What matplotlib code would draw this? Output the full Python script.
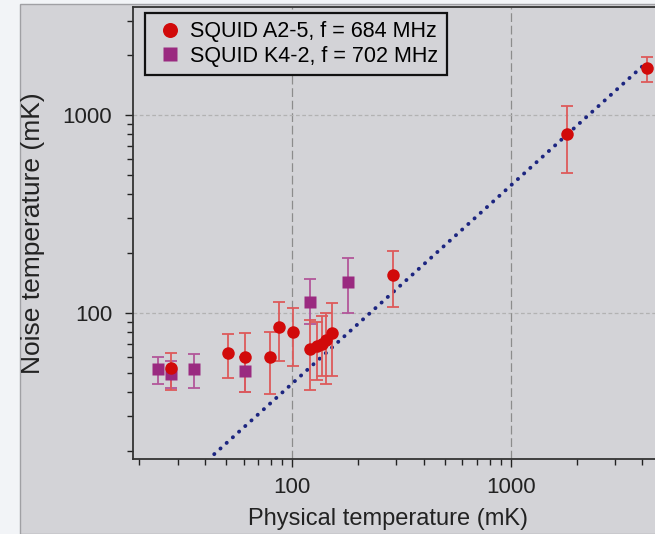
import numpy as np
import matplotlib.pyplot as plt
from matplotlib.patches import Rectangle
from matplotlib.ticker import LogLocator, NullFormatter, FixedLocator, FixedFormatter

plt.rcParams['font.family'] = ['Liberation Sans', 'DejaVu Sans']

# SQUID A2-5 (red circles)
a_x = [28, 51, 61, 79, 87, 101, 121, 130, 137, 143, 152, 288, 1800, 4190]
a_y = [53, 63, 60, 60, 85, 80, 66, 68, 70, 73, 79, 156, 800, 1720]
a_lo = [41, 47, 40, 39, 57, 54, 41, 46, 48, 44, 48, 107, 508, 1470]
a_hi = [63, 78, 79, 80, 113, 106, 92, 90, 96, 100, 112, 206, 1110, 1970]

# SQUID K4-2 (purple squares)
k_x = [24.4, 28, 35.6, 61, 121, 181]
k_y = [52, 49, 52, 51, 114, 144]
k_lo = [44, 42, 42, 40, 88, 100]
k_hi = [60, 57, 62, 60, 148, 189]

# dotted reference line, T_N = 0.44 * T
line_x = [44, 4000]
line_slope = 0.44

panel = '#d3d3d7'

fig = plt.figure(figsize=(6.55, 5.34), dpi=100)
fig.patch.set_facecolor('#f2f4f7')
fig.patches.append(Rectangle((20 / 655, 0), 1, (534 - 4) / 534, transform=fig.transFigure,
                             facecolor=panel, edgecolor='#a0a0a4', linewidth=1, zorder=-10))

ax = fig.add_axes([133 / 655, 75 / 534, 1 - 133 / 655, (459 - 7) / 534])
ax.set_facecolor(panel)
ax.set_xscale('log')
ax.set_yscale('log')
ax.set_xlim(18.7, 4570)
ax.set_ylim(18.3, 3510)

# grid lines
for v in [100, 1000]:
    ax.axvline(v, color='#8c8c8c', lw=0.9, ls=(0, (7, 3)), zorder=1)
    ax.axhline(v, color='#b2b2b2', lw=0.9, ls=(0, (3, 2)), zorder=1)

lx = np.array(line_x, dtype=float)
ax.plot(lx, line_slope * lx, color='#1c2580', lw=2.8, ls=(0, (0.05, 2.1)),
        dash_capstyle='round', zorder=2)

a_x = np.array(a_x); a_y = np.array(a_y)
k_x = np.array(k_x); k_y = np.array(k_y)
a_err = [a_y - np.array(a_lo), np.array(a_hi) - a_y]
k_err = [k_y - np.array(k_lo), np.array(k_hi) - k_y]

ax.errorbar(k_x, k_y, yerr=k_err, fmt='none', ecolor='#b2569a', elinewidth=1.3,
            capsize=4, capthick=1.3, zorder=3)
ax.errorbar(a_x, a_y, yerr=a_err, fmt='none', ecolor='#dd5a5a', elinewidth=1.3,
            capsize=4, capthick=1.3, zorder=3)
ax.plot(k_x, k_y, 's', color='#9a2a80', ms=8, mec='none', zorder=4,
        label='SQUID K4-2, f = 702 MHz')
ax.plot(a_x, a_y, 'o', color='#d10a0a', ms=9, mec='none', zorder=5,
        label='SQUID A2-5, f = 684 MHz')

ax.xaxis.set_major_locator(FixedLocator([100, 1000]))
ax.xaxis.set_major_formatter(FixedFormatter(['100', '1000']))
ax.yaxis.set_major_locator(FixedLocator([100, 1000]))
ax.yaxis.set_major_formatter(FixedFormatter(['100', '1000']))
ax.xaxis.set_minor_locator(LogLocator(base=10, subs=np.arange(2, 10)))
ax.yaxis.set_minor_locator(LogLocator(base=10, subs=np.arange(2, 10)))
ax.xaxis.set_minor_formatter(NullFormatter())
ax.yaxis.set_minor_formatter(NullFormatter())
ax.tick_params(which='major', length=6, width=1, labelsize=16, colors='#222222')
ax.tick_params(which='minor', length=4, width=1, colors='#222222')
ax.tick_params(axis='x', which='major', pad=7)
ax.tick_params(axis='y', which='major', pad=9)

for s in ['left', 'bottom', 'top']:
    ax.spines[s].set_linewidth(1.3)
    ax.spines[s].set_color('#333333')
ax.spines['right'].set_visible(False)

ax.set_xlabel('Physical temperature (mK)', fontsize=17, color='#222222')
ax.set_ylabel('Noise temperature (mK)', fontsize=19, color='#222222')
ax.xaxis.set_label_coords(0.4885, -0.108)
ax.yaxis.set_label_coords(-0.168, 0.5)

# legend: circles first, squares second
h, l = ax.get_legend_handles_labels()
leg = ax.legend(h[::-1], l[::-1], loc='upper left', bbox_to_anchor=(0.023, 0.987),
                borderaxespad=0, fontsize=15.5, frameon=True, fancybox=False,
                handlelength=1.5, handletextpad=0.2, labelspacing=0.15,
                borderpad=0.4, markerscale=1.2)
leg.get_frame().set_edgecolor('#111111')
leg.get_frame().set_linewidth(1.6)
leg.get_frame().set_facecolor(panel)
leg.get_frame().set_alpha(1)

fig.savefig('out.png', dpi=100, facecolor=fig.get_facecolor())
